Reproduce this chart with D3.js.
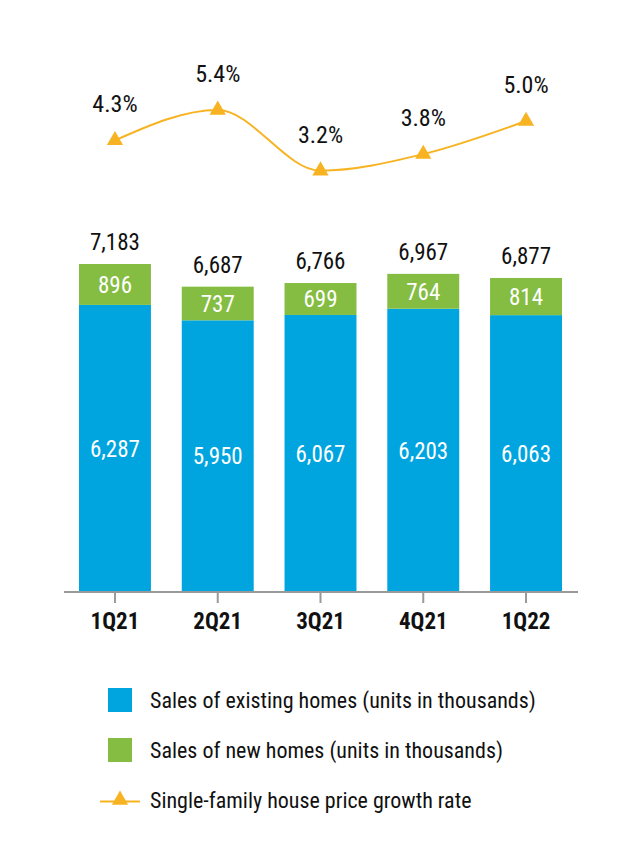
<!DOCTYPE html>
<html><head><meta charset="utf-8">
<script src="https://cdn.jsdelivr.net/npm/d3@7"></script>
<style>
body{margin:0;background:#fff;}
text{font-family:"Liberation Sans Narrow","Roboto Condensed","Arial Narrow","Liberation Sans",sans-serif;}
</style></head>
<body><svg id="c" width="642" height="856"></svg>
<script>
const categories = ["1Q21","2Q21","3Q21","4Q21","1Q22"];
const existingSales = [6287,5950,6067,6203,6063];
const newSales = [896,737,699,764,814];
const totals = [7183,6687,6766,6967,6877];
const growthRate = [4.3,5.4,3.2,3.8,5.0];
const legendLabels = ["Sales of existing homes (units in thousands)","Sales of new homes (units in thousands)","Single-family house price growth rate"];

const blue="#00A5E0", green="#84BD42", orange="#F7B321";
const FF='"Liberation Sans Narrow","Roboto Condensed","Arial Narrow","Liberation Sans",sans-serif';
const svg=d3.select("#c");
const x=d3.scaleBand().domain(categories).range([64,577]).paddingInner(0.3).paddingOuter(0.146);
const y=d3.scaleLinear().domain([0,7183]).range([592,264]);
const yl=d3.scaleLinear().domain([3.2,5.4]).range([170.7,110]);
const fmt=d3.format(",");

const g=svg.append("g");
categories.forEach((c,i)=>{
  g.append("rect").attr("x",x(c)).attr("width",x.bandwidth()).attr("y",y(existingSales[i])).attr("height",y(0)-y(existingSales[i])).attr("fill",blue);
  g.append("rect").attr("x",x(c)).attr("width",x.bandwidth()).attr("y",y(existingSales[i]+newSales[i])).attr("height",y(existingSales[i])-y(existingSales[i]+newSales[i])).attr("fill",green);
  const cx=x(c)+x.bandwidth()/2;
  g.append("text").attr("x",cx).attr("y",(y(existingSales[i])+y(0))/2).attr("dy","0.36em").attr("text-anchor","middle").attr("fill","#fff").attr("font-size",23).text(fmt(existingSales[i]));
  g.append("text").attr("x",cx).attr("y",(y(existingSales[i])+y(existingSales[i]+newSales[i]))/2).attr("dy","0.36em").attr("text-anchor","middle").attr("fill","#fff").attr("font-size",23).text(fmt(newSales[i]));
  g.append("text").attr("x",cx).attr("y",y(totals[i])-14).attr("text-anchor","middle").attr("fill","#111").attr("font-size",23).text(fmt(totals[i]));
});

const ax=svg.append("g").attr("transform","translate(0,592)").call(d3.axisBottom(x).tickSize(11).tickPadding(10));
ax.select(".domain").attr("stroke","#999").attr("stroke-width",2).attr("d","M64,0H578");
ax.selectAll(".tick line").attr("stroke","#999").attr("stroke-width",2);
ax.selectAll(".tick text").attr("font-size",23).attr("font-weight","bold").attr("fill","#111").style("font-family",FF);

const pts=categories.map((c,i)=>[x(c)+x.bandwidth()/2,yl(growthRate[i])]);
svg.append("path").attr("d",d3.line().curve(d3.curveMonotoneX)(pts)).attr("fill","none").attr("stroke",orange).attr("stroke-width",2);
const tri=d3.symbol().type(d3.symbolTriangle).size(115);
pts.forEach((p,i)=>{
  svg.append("path").attr("d",tri()).attr("transform",`translate(${p[0]},${p[1]})`).attr("fill",orange);
  svg.append("text").attr("x",p[0]).attr("y",p[1]-28).attr("text-anchor","middle").attr("font-size",24).attr("fill","#111").text(growthRate[i].toFixed(1)+"%");
});

const lg=svg.append("g");
lg.append("rect").attr("x",108).attr("y",688).attr("width",24).attr("height",24).attr("fill",blue);
lg.append("rect").attr("x",108).attr("y",738).attr("width",24).attr("height",24).attr("fill",green);
lg.append("line").attr("x1",100).attr("x2",140).attr("y1",801.5).attr("y2",801.5).attr("stroke",orange).attr("stroke-width",2);
lg.append("path").attr("d",tri()).attr("transform","translate(120,800)").attr("fill",orange);
[708,758,808].forEach((yy,i)=>{
  lg.append("text").attr("x",150).attr("y",yy).attr("font-size",22).attr("fill","#111").text(legendLabels[i]);
});
</script></body></html>
